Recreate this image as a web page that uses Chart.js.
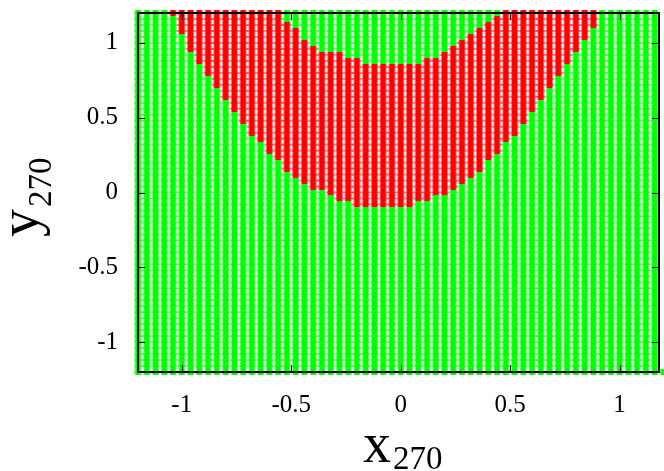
<!DOCTYPE html>
<html>
<head>
<meta charset="utf-8">
<script src="https://cdn.jsdelivr.net/npm/chart.js@4.4.1/dist/chart.umd.min.js"></script>
<style>
  html, body { margin: 0; padding: 0; background: #fff; }
  #wrap { width: 664px; height: 471px; }
</style>
</head>
<body>
<div id="wrap"><canvas id="basinChart" width="664" height="471"></canvas></div>
<script>
// sampling lattice (x and y use the same values)
const gridX = [-1.2, -1.16, -1.12, -1.08, -1.04, -1, -0.96, -0.92, -0.88, -0.84, -0.8, -0.76, -0.72, -0.68, -0.64, -0.6,
  -0.56, -0.52, -0.48, -0.44, -0.4, -0.36, -0.32, -0.28, -0.24, -0.2, -0.16, -0.12, -0.08, -0.04, 0,
  0.04, 0.08, 0.12, 0.16, 0.2, 0.24, 0.28, 0.32, 0.36, 0.4, 0.44, 0.48, 0.52, 0.56, 0.6,
  0.64, 0.68, 0.72, 0.76, 0.8, 0.84, 0.88, 0.92, 0.96, 1, 1.04, 1.08, 1.12, 1.16, 1.2];
const gridY = gridX.slice();

// per column: lowest and highest y that end up in the red set (null = none)
const redLow = [null, null, null, null,
  1.2, 1.08, 0.96, 0.88, 0.8, 0.72, 0.64, 0.56, 0.48, 0.4, 0.36, 0.28, 0.24,
  0.16, 0.12, 0.08, 0.04, 0.04, 0, -0.04, -0.04,
  -0.08, -0.08, -0.08, -0.08, -0.08, -0.08, -0.08,
  -0.04, -0.04, 0, 0, 0.04, 0.08, 0.12, 0.16, 0.24, 0.28,
  0.36, 0.4, 0.48, 0.56, 0.64, 0.72, 0.8, 0.88, 0.96, 1.04, 1.12,
  null, null, null, null, null, null, null, null];
const redHigh = [null, null, null, null,
  1.2, 1.2, 1.2, 1.2, 1.2, 1.2, 1.2, 1.2, 1.2, 1.2, 1.2, 1.2, 1.2,
  1.12, 1.08, 1.0, 0.96, 0.92, 0.92, 0.92, 0.88,
  0.88, 0.84, 0.84, 0.84, 0.84, 0.84, 0.84,
  0.84, 0.88, 0.88, 0.92, 0.96, 1.0, 1.04, 1.08, 1.12, 1.16,
  1.2, 1.2, 1.2, 1.2, 1.2, 1.2, 1.2, 1.2, 1.2, 1.2, 1.2,
  null, null, null, null, null, null, null, null];

const xTicks = [-1, -0.5, 0, 0.5, 1];
const yTicks = [-1, -0.5, 0, 0.5, 1];

const SERIF = "'Liberation Serif', 'Times New Roman', serif";

// split lattice into the two sets
const greenPts = [];
const redPts = [];
gridX.forEach((xv, i) => {
  gridY.forEach(yv => {
    const lo = redLow[i], hi = redHigh[i];
    const isRed = lo !== null && yv >= lo - 1e-9 && yv <= hi + 1e-9;
    (isRed ? redPts : greenPts).push({ x: xv, y: yv });
  });
});

// little plus-ish block used as the marker
function makeMarker(color) {
  const c = document.createElement('canvas');
  c.width = 9;
  c.height = 6;
  const g = c.getContext('2d');
  g.fillStyle = color;
  g.globalAlpha = 0.45;
  g.fillRect(0, 2, 9, 2);
  g.globalAlpha = 1;
  g.fillRect(1.5, 0, 6, 6);
  return c;
}

// border box and inward tics, drawn over the points
const frame = {
  id: 'frame',
  afterDatasetsDraw(chart) {
    const { ctx, chartArea: a, scales: { x, y } } = chart;
    ctx.save();
    ctx.strokeStyle = '#000';
    ctx.lineWidth = 1;
    ctx.beginPath();
    xTicks.forEach(v => {
      const px = Math.round(x.getPixelForValue(v)) + 0.5;
      ctx.moveTo(px, a.bottom); ctx.lineTo(px, a.bottom - 7);
      ctx.moveTo(px, a.top); ctx.lineTo(px, a.top + 7);
    });
    yTicks.forEach(v => {
      const py = Math.round(y.getPixelForValue(v)) + 0.5;
      ctx.moveTo(a.left, py); ctx.lineTo(a.left + 7, py);
      ctx.moveTo(a.right, py); ctx.lineTo(a.right - 7, py);
    });
    ctx.stroke();
    ctx.lineWidth = 2;
    ctx.strokeRect(a.left, a.top, a.right - a.left, a.bottom - a.top);
    ctx.restore();
  }
};

// axis names with subscripts
const axisNames = {
  id: 'axisNames',
  afterDraw(chart) {
    const { ctx } = chart;
    ctx.save();
    ctx.fillStyle = '#000';
    ctx.textBaseline = 'alphabetic';
    ctx.textAlign = 'left';

    ctx.font = '56px ' + SERIF;
    ctx.fillText('x', 363, 462);
    const xw = ctx.measureText('x').width;
    ctx.font = '33px ' + SERIF;
    ctx.fillText('270', 363 + xw + 2, 469);

    ctx.translate(38, 237);
    ctx.rotate(-Math.PI / 2);
    ctx.font = '56px ' + SERIF;
    ctx.fillText('y', 0, 0);
    const yw = ctx.measureText('y').width;
    ctx.font = '33px ' + SERIF;
    ctx.fillText('270', yw + 2, 13);
    ctx.restore();
  }
};

const tickFont = { family: SERIF, size: 25 };

new Chart(document.getElementById('basinChart'), {
  type: 'scatter',
  data: {
    datasets: [
      {
        label: 'green',
        data: greenPts,
        pointStyle: makeMarker('#00ff00'),
        pointRadius: 3
      },
      {
        label: 'red',
        data: redPts,
        pointStyle: makeMarker('#ff0000'),
        pointRadius: 3
      }
    ]
  },
  options: {
    responsive: false,
    animation: false,
    events: [],
    clip: false,
    layout: { padding: { top: 13, right: 2, left: 0, bottom: 0 } },
    plugins: {
      legend: { display: false },
      tooltip: { enabled: false }
    },
    scales: {
      x: {
        type: 'linear',
        min: -1.2,
        max: 1.18,
        afterBuildTicks: s => { s.ticks = xTicks.map(v => ({ value: v })); },
        afterFit: s => { s.height = 99; s.paddingLeft = 0; s.paddingRight = 0; },
        grid: { display: false, drawTicks: false },
        border: { display: false },
        ticks: {
          padding: 18,
          color: '#000',
          font: tickFont,
          maxRotation: 0,
          callback: v => String(v)
        }
      },
      y: {
        type: 'linear',
        min: -1.2,
        max: 1.2,
        afterBuildTicks: s => { s.ticks = yTicks.map(v => ({ value: v })); },
        afterFit: s => { s.width = 138; s.paddingTop = 0; s.paddingBottom = 0; },
        grid: { display: false, drawTicks: false },
        border: { display: false },
        ticks: {
          padding: 20,
          color: '#000',
          font: tickFont,
          callback: v => String(v)
        }
      }
    }
  },
  plugins: [frame, axisNames]
});
</script>
</body>
</html>
